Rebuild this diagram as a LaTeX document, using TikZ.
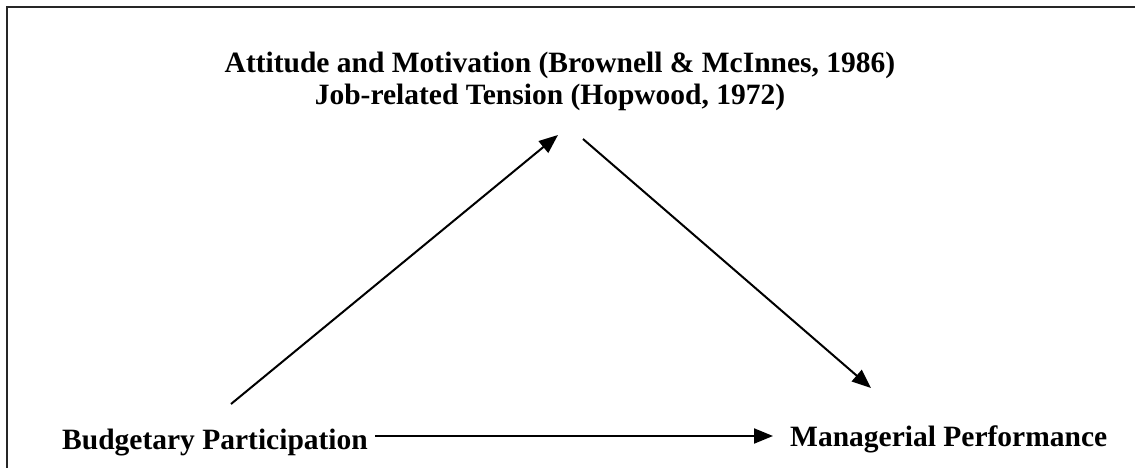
\documentclass[tikz,border=0pt]{standalone}
\usepackage{fontspec}
\setmainfont{Liberation Serif}
\usepackage{tikz}
\usetikzlibrary{arrows.meta,positioning}
\tikzstyle{factor}=[font=\fontsize{29.5}{32}\selectfont\bfseries, inner sep=0pt, anchor=base]
\tikzstyle{link}=[line width=2pt, -{Triangle[length=19pt,width=15pt]}]

\begin{document}
\begin{tikzpicture}[x=1pt, y=-1pt]
    \useasboundingbox (0,0) rectangle (1135,468);
    % frame, cut at the right and bottom
    \draw[line width=2.2pt, black!85] (1135,7) -- (7,7) -- (7,468);

    % Place factors
    \node[factor] (att) at (560,73) {Attitude and Motivation (Brownell \& McInnes, 1986)};
    \node[factor] (job) at (550,105) {Job-related Tension (Hopwood, 1972)};
    \node[factor, anchor=base west] (bp) at (62,449) {Budgetary Participation};
    \node[factor, anchor=base west] (mp) at (790,446) {Managerial Performance};

    % arrow ends
    \coordinate (bpup) at (231,404);
    \coordinate (mid1) at (558,135);
    \coordinate (mid2) at (583,139);
    \coordinate (mpup) at (871,388);
    \coordinate (bpr) at (375,436);
    \coordinate (mpl) at (773,436);

    \path[link] (bpup) edge (mid1);
    \path[link] (mid2) edge (mpup);
    \path[link] (bpr) edge (mpl);
\end{tikzpicture}
\end{document}
